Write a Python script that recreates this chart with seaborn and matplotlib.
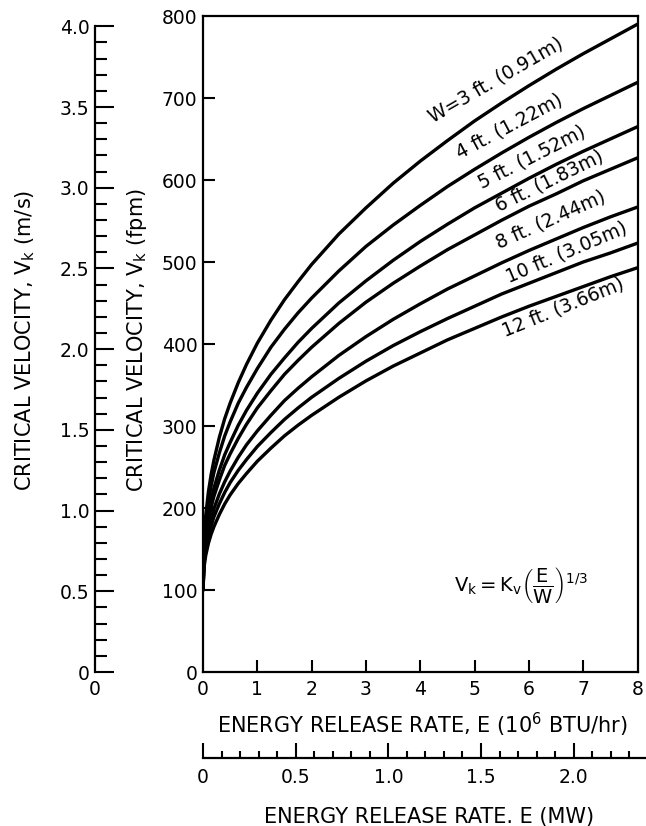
import numpy as np
import pandas as pd
import matplotlib
matplotlib.use('Agg')
import matplotlib.pyplot as plt
import seaborn as sns
from matplotlib.ticker import MultipleLocator, FixedLocator

# ---------------- data ----------------
E_btu = [0, 0.02, 0.05, 0.1, 0.15, 0.2, 0.3, 0.4, 0.5, 0.65, 0.8, 1, 1.25, 1.5, 1.75,
         2, 2.5, 3, 3.5, 4, 4.5, 5, 5.5, 6, 6.5, 7, 7.5, 8]
V_W3 = [100, 163, 191, 220, 241, 258, 286, 309, 328, 353, 375, 401, 429, 454, 476,
        497, 534, 566, 596, 623, 648, 672, 694, 715, 735, 754, 772, 790]
V_W4 = [100, 157, 182, 208, 227, 243, 267, 288, 305, 328, 347, 370, 396, 418, 438,
        456, 489, 519, 545, 569, 592, 613, 633, 652, 670, 687, 703, 719]
V_W5 = [100, 148, 170, 193, 210, 224, 246, 265, 280, 301, 319, 340, 363, 383, 402,
        419, 450, 477, 502, 525, 546, 566, 584, 602, 619, 635, 650, 665]
V_W6 = [100, 144, 164, 185, 201, 214, 234, 252, 266, 285, 302, 322, 343, 363, 380,
        396, 425, 451, 474, 495, 515, 533, 551, 568, 583, 599, 613, 627]
V_W8 = [100, 137, 155, 174, 187, 199, 217, 232, 245, 262, 277, 294, 313, 331, 346,
        360, 386, 409, 430, 449, 467, 483, 499, 514, 528, 542, 555, 567]
V_W10 = [100, 133, 149, 166, 178, 189, 205, 219, 231, 246, 259, 275, 292, 308, 322,
         335, 358, 379, 398, 415, 431, 446, 461, 474, 487, 500, 511, 523]
V_W12 = [100, 128, 142, 157, 168, 177, 192, 205, 216, 230, 242, 257, 273, 288, 301,
         313, 335, 355, 373, 389, 405, 419, 433, 446, 458, 470, 482, 493]
widths_ft = [3, 4, 5, 6, 8, 10, 12]
curve_labels = ['W=3 ft. (0.91m)', '4 ft. (1.22m)', '5 ft. (1.52m)', '6 ft. (1.83m)',
                '8 ft. (2.44m)', '10 ft. (3.05m)', '12 ft. (3.66m)']
x_ticks = [0, 1, 2, 3, 4, 5, 6, 7, 8]
y_ticks = [0, 100, 200, 300, 400, 500, 600, 700, 800]
ms_ticks = [0, 0.5, 1.0, 1.5, 2.0, 2.5, 3.0, 3.5, 4.0]
ms_labels = ['0', '0.5', '1.0', '1.5', '2.0', '2.5', '3.0', '3.5', '4.0']
mw_ticks = [0, 0.5, 1.0, 1.5, 2.0]
mw_labels = ['0', '0.5', '1.0', '1.5', '2.0']
FPM_TO_MS = 0.00508
MW_TO_BTU = 3.412

# label placement (layout)
label_E = [5.40, 5.64, 6.06, 6.37, 6.41, 6.69, 6.63]
label_V = [722, 666, 628, 599, 551, 512, 445]
label_rot = [30, 28, 27, 26, 24, 23, 22]

series = [V_W3, V_W4, V_W5, V_W6, V_W8, V_W10, V_W12]
df = pd.DataFrame({
    'E': np.tile(E_btu, len(widths_ft)),
    'V': np.concatenate(series),
    'W': np.repeat(widths_ft, len(E_btu)),
})

sns.set_theme(style='ticks')
FONT = 'DejaVu Sans'
plt.rcParams['font.family'] = [FONT]
plt.rcParams['mathtext.fontset'] = 'custom'
plt.rcParams['mathtext.rm'] = FONT
plt.rcParams['mathtext.it'] = FONT
plt.rcParams['mathtext.bf'] = FONT + ':bold'
for k in ['text.color', 'axes.labelcolor', 'xtick.color', 'ytick.color', 'axes.edgecolor']:
    plt.rcParams[k] = 'black'
plt.rcParams['axes.axisbelow'] = False
plt.rcParams['xtick.direction'] = 'in'
plt.rcParams['ytick.direction'] = 'in'

W, H = 646, 826
FS = 13.5     # tick labels and curve labels
FT = 15       # axis titles
fig = plt.figure(figsize=(W / 100, H / 100), dpi=100)
fig.patch.set_facecolor('white')

# main axes (data)
x0, x1, ytop, ybot = 203, 637.5, 16, 672
ax_w, ax_h = x1 - x0, ybot - ytop
ax = fig.add_axes([x0 / W, 1 - ybot / H, ax_w / W, ax_h / H])
sns.lineplot(data=df, x='E', y='V', hue='W', palette=['black'] * len(widths_ft),
             legend=False, linewidth=2.4, ax=ax, errorbar=None)
ax.set_xlim(0, 8)
ax.set_ylim(0, 800)
ax.xaxis.set_major_locator(FixedLocator(x_ticks))
ax.set_xticklabels([str(t) for t in x_ticks])
ax.yaxis.set_major_locator(FixedLocator(y_ticks))
ax.set_yticklabels([str(t) for t in y_ticks])
ax.tick_params(axis='x', which='major', direction='in', length=0, width=1.5,
               labelsize=FS, colors='black', pad=6, bottom=True, top=False)
ax.tick_params(axis='y', which='major', direction='in', length=0, width=1.5,
               labelsize=FS, colors='black', pad=4, left=True, right=False)
# inward tick marks of the main frame, placed at the tick values
TICK_PX = 12
ax.vlines(x_ticks[1:-1], 0, TICK_PX / ax_h, transform=ax.get_xaxis_transform(),
          colors='black', linewidth=1.5, clip_on=False, zorder=5)
ax.hlines(y_ticks[1:-1], 0, TICK_PX / ax_w, transform=ax.get_yaxis_transform(),
          colors='black', linewidth=1.5, clip_on=False, zorder=5)
for s in ax.spines.values():
    s.set_visible(True)
    s.set_linewidth(1.6)
    s.set_color('black')
ax.set_facecolor('none')
ax.set_xlabel('ENERGY RELEASE RATE, E (10$^\\mathregular{6}$ BTU/hr)', fontsize=FT)
ax.xaxis.label.set_va('center')
ax.xaxis.set_label_coords((422 - x0) / ax_w, -(725 - ybot) / ax_h)
ax.set_ylabel('CRITICAL VELOCITY, V$_\\mathregular{k}$ (fpm)', fontsize=FT)
ax.yaxis.label.set_va('center')
ax.yaxis.set_label_coords((137 - x0) / ax_w, (ybot - 340) / ax_h)

for lab, e, v, r in zip(curve_labels, label_E, label_V, label_rot):
    ax.text(e, v, lab, rotation=r, rotation_mode='anchor', ha='center', va='center',
            fontsize=FS, color='black')

ax.text(5.86, 106, r'$V_k = K_v\left(\dfrac{E}{W}\right)^{1/3}$', ha='center', va='center',
        fontsize=14, color='black')

# left m/s axis
axL = fig.add_axes([95 / W, 1 - ybot / H, 20 / W, ax_h / H])
axL.set_facecolor('none')
axL.set_ylim(0, 800 * FPM_TO_MS)
axL.set_xlim(0, 1)
for k in ['top', 'right', 'bottom']:
    axL.spines[k].set_visible(False)
axL.spines['left'].set_linewidth(1.6)
axL.spines['left'].set_color('black')
axL.spines['left'].set_bounds(0, 4.0)
axL.yaxis.set_major_locator(FixedLocator(ms_ticks))
axL.set_yticklabels(ms_labels)
axL.yaxis.set_minor_locator(MultipleLocator(0.1))
axL.tick_params(axis='y', which='major', direction='in', length=14, width=1.5,
                labelsize=FS, pad=4, colors='black', left=True)
axL.tick_params(axis='y', which='minor', direction='in', length=8.5, width=1.5,
                colors='black', left=True)
axL.set_xticks([0])
axL.set_xticklabels(['0'])
axL.tick_params(axis='x', length=0, labelsize=FS, pad=6, colors='black', bottom=True)
axL.set_ylabel('CRITICAL VELOCITY, V$_\\mathregular{k}$ (m/s)', fontsize=FT)
axL.yaxis.label.set_va('center')
axL.yaxis.set_label_coords((25 - 95) / 20, (ybot - 340) / ax_h)

# bottom MW axis
mw_max = 2.4
mw_px = mw_max * MW_TO_BTU * ax_w / 8
ymw = 758
axB = fig.add_axes([x0 / W, 1 - ymw / H, mw_px / W, 8 / H])
axB.set_facecolor('none')
axB.set_xlim(0, mw_max + 1e-6)
axB.set_ylim(0, 1)
for k in ['top', 'right', 'left']:
    axB.spines[k].set_visible(False)
axB.spines['bottom'].set_linewidth(1.6)
axB.spines['bottom'].set_color('black')
axB.spines['bottom'].set_bounds(0, mw_max)
axB.set_yticks([])
axB.xaxis.set_major_locator(FixedLocator(mw_ticks))
axB.set_xticklabels(mw_labels)
axB.xaxis.set_minor_locator(MultipleLocator(0.1))
axB.tick_params(axis='x', which='major', direction='in', length=11, width=1.5,
                labelsize=FS, pad=7, colors='black', bottom=True)
axB.tick_params(axis='x', which='minor', direction='in', length=5, width=1.5,
                colors='black', bottom=True)
axB.set_xlabel('ENERGY RELEASE RATE. E (MW)', fontsize=FT)
axB.xaxis.label.set_va('center')
axB.xaxis.set_label_coords((429 - x0) / mw_px, -(817 - ymw) / 8)

fig.savefig('out.png', dpi=100, facecolor='white')
